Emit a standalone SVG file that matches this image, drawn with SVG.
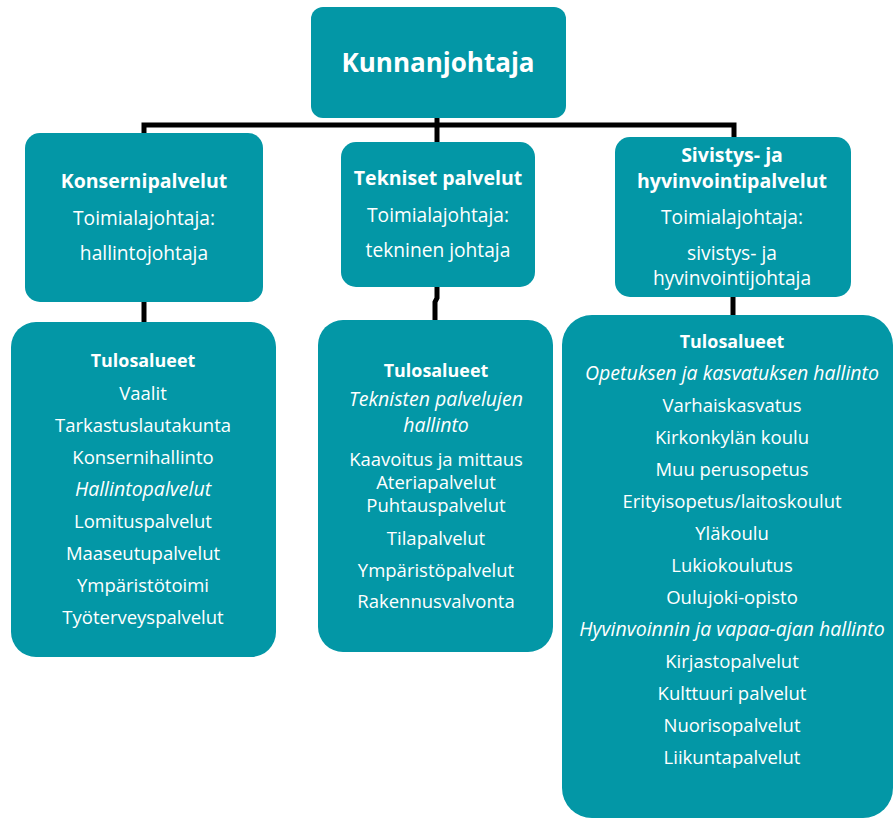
<svg xmlns="http://www.w3.org/2000/svg" width="894" height="819" viewBox="0 0 894 819">
<style>
.box{fill:#0397A6}
.t{font-family:"Open Sans","Noto Sans",sans-serif;fill:#fff;text-anchor:middle}
.b{font-weight:bold}
.hb{font-size:19.5px;font-weight:bold}
.h{font-size:19.2px}
.l{font-size:18.5px}
.lb{font-size:17.9px;font-weight:bold}
.li{font-size:19.5px;font-style:italic}
.conn{fill:none;stroke:#000;stroke-width:5;stroke-linejoin:miter}
</style>
<rect width="894" height="819" fill="#fff"/>
<g id="connectors">
<path class="conn" d="M437,116 L437,126"/>
<path class="conn" d="M144,135 L144,125 L734,125 L734,139"/>
<path class="conn" d="M437,125 L437,144"/>
<path class="conn" d="M144,300 L144,324"/>
<path class="conn" d="M437,285 L437,298 L435,302 L435,322"/>
<path class="conn" d="M733,295 L733,318"/>
</g>
<g id="kunnanjohtaja">
<rect class="box" x="311" y="7" width="255" height="111" rx="12"/>
<text class="t b" x="438" y="72" font-size="26">Kunnanjohtaja</text>
</g>
<g id="konsernipalvelut">
<rect class="box" x="25" y="133" width="238" height="169" rx="15"/>
<text class="t hb" x="144" y="188">Konsernipalvelut</text>
<text class="t h" x="144" y="225">Toimialajohtaja:</text>
<text class="t h" x="144" y="260">hallintojohtaja</text>
</g>
<g id="tekniset">
<rect class="box" x="341" y="142" width="194" height="145" rx="15"/>
<text class="t hb" x="438" y="185">Tekniset palvelut</text>
<text class="t h" x="438" y="222">Toimialajohtaja:</text>
<text class="t h" x="438" y="257">tekninen johtaja</text>
</g>
<g id="sivistys">
<rect class="box" x="615" y="137" width="236" height="160" rx="15"/>
<text class="t hb" x="732" y="162">Sivistys- ja</text>
<text class="t hb" x="732" y="188">hyvinvointipalvelut</text>
<text class="t h" x="732" y="224">Toimialajohtaja:</text>
<text class="t h" x="732" y="260">sivistys- ja</text>
<text class="t h" x="732" y="285">hyvinvointijohtaja</text>
</g>
<g id="tulosalueet-konserni">
<rect class="box" x="11" y="322" width="265" height="335" rx="25"/>
<text class="t lb" x="143" y="367">Tulosalueet</text>
<text class="t l" x="143" y="400">Vaalit</text>
<text class="t l" x="143" y="432">Tarkastuslautakunta</text>
<text class="t l" x="143" y="464">Konsernihallinto</text>
<text class="t li" x="143" y="496">Hallintopalvelut</text>
<text class="t l" x="143" y="528">Lomituspalvelut</text>
<text class="t l" x="143" y="560">Maaseutupalvelut</text>
<text class="t l" x="143" y="592">Ympäristötoimi</text>
<text class="t l" x="143" y="624">Työterveyspalvelut</text>
</g>
<g id="tulosalueet-tekniset">
<rect class="box" x="318" y="320" width="235" height="332" rx="25"/>
<text class="t lb" x="436" y="377">Tulosalueet</text>
<text class="t li" x="436" y="406" font-size="18">Teknisten palvelujen</text>
<text class="t li" x="436" y="432" font-size="18">hallinto</text>
<text class="t l" x="436" y="466">Kaavoitus ja mittaus</text>
<text class="t l" x="436" y="489">Ateriapalvelut</text>
<text class="t l" x="436" y="512">Puhtauspalvelut</text>
<text class="t l" x="436" y="545">Tilapalvelut</text>
<text class="t l" x="436" y="577">Ympäristöpalvelut</text>
<text class="t l" x="436" y="608">Rakennusvalvonta</text>
</g>
<g id="tulosalueet-sivistys">
<rect class="box" x="562" y="315" width="331" height="503" rx="30"/>
<text class="t lb" x="732" y="348">Tulosalueet</text>
<text class="t li" x="732" y="380">Opetuksen ja kasvatuksen hallinto</text>
<text class="t l" x="732" y="412">Varhaiskasvatus</text>
<text class="t l" x="732" y="444">Kirkonkylän koulu</text>
<text class="t l" x="732" y="476">Muu perusopetus</text>
<text class="t l" x="732" y="508">Erityisopetus/laitoskoulut</text>
<text class="t l" x="732" y="540">Yläkoulu</text>
<text class="t l" x="732" y="572">Lukiokoulutus</text>
<text class="t l" x="732" y="604">Oulujoki-opisto</text>
<text class="t li" x="732" y="636">Hyvinvoinnin ja vapaa-ajan hallinto</text>
<text class="t l" x="732" y="668">Kirjastopalvelut</text>
<text class="t l" x="732" y="700">Kulttuuri palvelut</text>
<text class="t l" x="732" y="732">Nuorisopalvelut</text>
<text class="t l" x="732" y="764">Liikuntapalvelut</text>
</g>
</svg>
